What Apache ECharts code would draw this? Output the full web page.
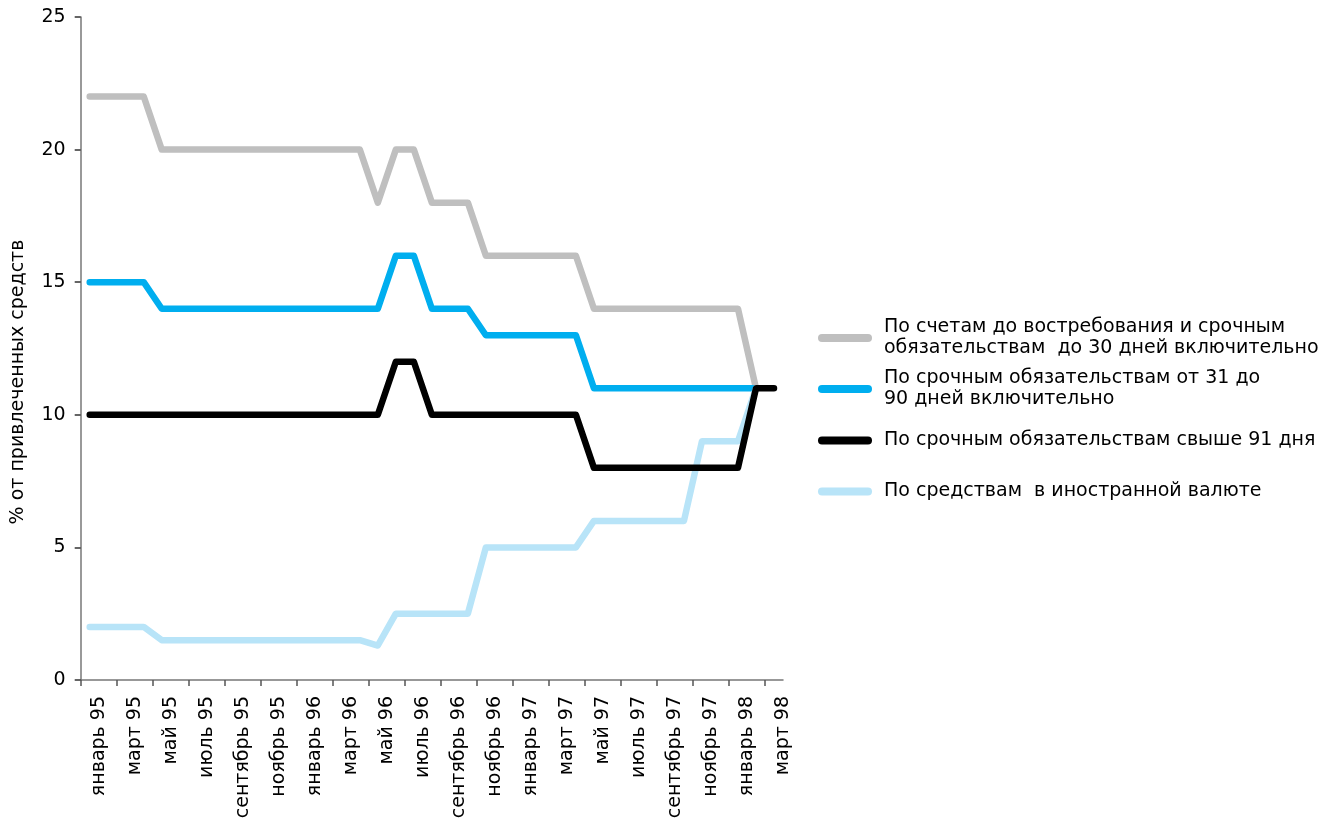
<!DOCTYPE html>
<html>
<head>
<meta charset="utf-8">
<script src="https://cdn.jsdelivr.net/npm/echarts@6/dist/echarts.min.js"></script>
<style>
html,body{margin:0;padding:0;background:#fff;}
#chart{width:1326px;height:822px;}
</style>
</head>
<body>
<div id="chart"></div>
<script>
const months = [
  'январь 95','февраль 95','март 95','апрель 95','май 95','июнь 95','июль 95','август 95','сентябрь 95','октябрь 95','ноябрь 95','декабрь 95',
  'январь 96','февраль 96','март 96','апрель 96','май 96','июнь 96','июль 96','август 96','сентябрь 96','октябрь 96','ноябрь 96','декабрь 96',
  'январь 97','февраль 97','март 97','апрель 97','май 97','июнь 97','июль 97','август 97','сентябрь 97','октябрь 97','ноябрь 97','декабрь 97',
  'январь 98','февраль 98','март 98'
];
const yTicks = [0, 5, 10, 15, 20, 25];
// month-boundary positions of x ticks (every two months)
const xTickBounds = [0,2,4,6,8,10,12,14,16,18,20,22,24,26,28,30,32,34,36,38];

const demandTo30 = [22,22,22,22, 20,20,20,20,20,20,20,20,20,20,20,20, 18, 20,20, 18,18,18, 16,16,16,16,16,16, 14,14,14,14,14,14,14,14,14, 11, null];
const term31to90 = [15,15,15,15, 14,14,14,14,14,14,14,14,14,14,14,14,14, 16,16, 14,14,14, 13,13,13,13,13,13, 11,11,11,11,11,11,11,11,11,11, null];
const termOver91 = [10,10,10,10,10,10,10,10,10,10,10,10,10,10,10,10,10, 12,12, 10,10,10,10,10,10,10,10,10, 8,8,8,8,8,8,8,8,8, 11,11];
const foreignCur = [2,2,2,2, 1.5,1.5,1.5,1.5,1.5,1.5,1.5,1.5,1.5,1.5,1.5,1.5, 1.3, 2.5,2.5,2.5,2.5,2.5, 5,5,5,5,5,5, 6,6,6,6,6,6, 9,9,9, 11, null];

const names = [
  'По счетам до востребования и срочным\nобязательствам  до 30 дней включительно',
  'По срочным обязательствам от 31 до\n90 дней включительно',
  'По срочным обязательствам свыше 91 дня',
  'По средствам  в иностранной валюте'
];
const colors = ['#bfbfbf', '#00aeef', '#000000', '#b8e4f8'];
const seriesData = [demandTo30, term31to90, termOver91, foreignCur];

const FONT = 'DejaVu Sans';
const FS = 19;
const pill = 'path://M4,0 L50,0 A4,4 0 0 1 50,8 L4,8 A4,4 0 0 1 4,0 Z';
const legendTops = [317, 368, 430, 481];

const chart = echarts.init(document.getElementById('chart'), null, {renderer: 'canvas'});
chart.setOption({
  backgroundColor: '#fff',
  animation: false,
  textStyle: {fontFamily: FONT},
  grid: {left: 80.7, right: 543, top: 17, bottom: 142, containLabel: false},
  xAxis: [{
    type: 'category',
    data: months,
    boundaryGap: true,
    axisLine: {lineStyle: {color: '#777', width: 1.5}},
    axisTick: {show: false},
    axisLabel: {
      interval: 1, rotate: 90, margin: 16, fontSize: FS, color: '#000',
      fontFamily: FONT, verticalAlign: 'top', align: 'right'
    },
    splitLine: {show: false}
  }, {
    type: 'value',
    position: 'bottom',
    min: 0, max: months.length,
    axisLine: {show: false},
    axisLabel: {show: false},
    axisTick: {show: true, length: 6, customValues: xTickBounds, lineStyle: {color: '#555', width: 1.5}},
    splitLine: {show: false}
  }],
  yAxis: {
    type: 'value',
    min: yTicks[0], max: yTicks[yTicks.length - 1], interval: 5,
    axisLine: {show: true, lineStyle: {color: '#777', width: 1.5}},
    axisTick: {show: true, length: 6, lineStyle: {color: '#333', width: 1.5}},
    axisLabel: {fontSize: FS, color: '#000', margin: 15, fontFamily: FONT},
    splitLine: {show: false}
  },
  legend: names.map((n, i) => ({
    data: [{name: n, icon: pill}],
    orient: 'vertical', left: 818, top: legendTops[i], padding: 0,
    itemWidth: 54, itemHeight: 8, selectedMode: false,
    textStyle: {fontSize: FS, lineHeight: 21, color: '#000', fontFamily: FONT, padding: [0, 0, 0, 7]}
  })),
  graphic: [{
    type: 'text', x: 18, y: 382, rotation: Math.PI / 2,
    style: {text: '% от привлеченных средств', fontSize: FS, fontFamily: FONT, fill: '#000', align: 'center', verticalAlign: 'middle'}
  }],
  series: names.map((n, i) => ({
    name: n, type: 'line', data: seriesData[i], symbol: 'none', connectNulls: false,
    xAxisIndex: 0,
    z: i === 2 ? 4 : 2,
    lineStyle: {color: colors[i], width: 6.5, cap: 'round', join: 'round'},
    itemStyle: {color: colors[i]}
  }))
});
</script>
</body>
</html>
